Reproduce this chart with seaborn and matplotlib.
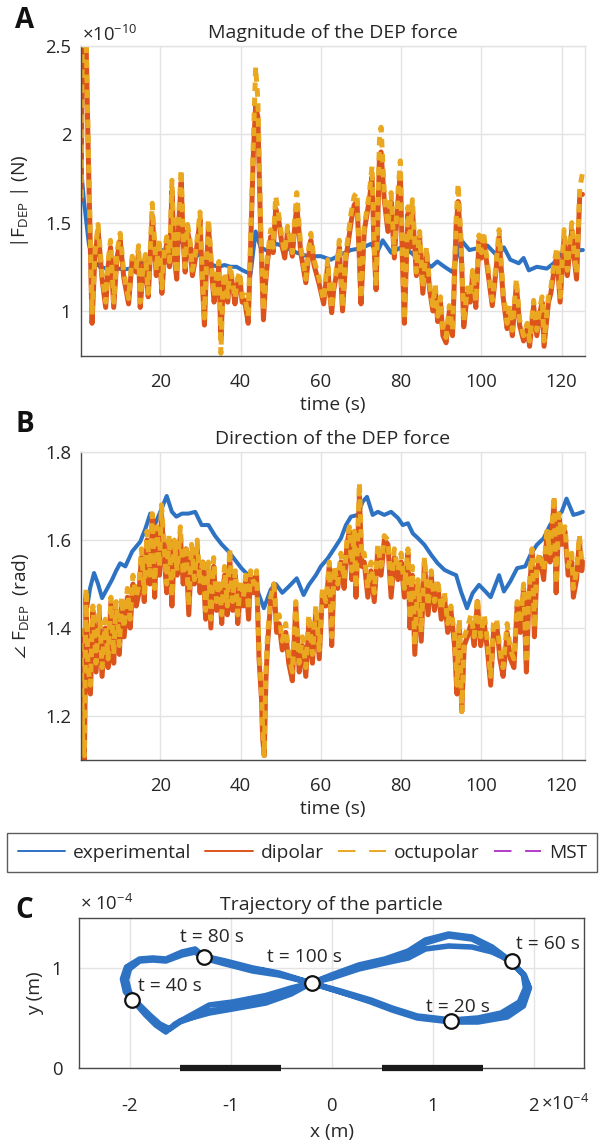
import matplotlib
matplotlib.use("Agg")
import matplotlib.pyplot as plt
import seaborn as sns
from matplotlib.lines import Line2D

# ---------------- data ----------------
# Panel A: magnitude of DEP force (units of 1e-10 N)
time_exp_a = [0.3, 1.0, 1.6, 2.2, 3.0, 4.0, 5.0, 6.5, 8.0, 9.5, 11.0, 12.6, 14.0, 15.5, 17.0, 18.5,
              20.0, 21.5, 23.0, 24.5, 26.0, 27.0, 28.5, 30.0, 31.5, 33.0, 34.5, 36.0, 37.5, 39.0,
              40.5, 42.5, 43.75, 45.0, 46.7, 49.0, 51.7, 54.0, 56.7, 60.0, 62.5, 65.0, 67.5, 70.0,
              72.5, 74.0, 75.4, 77.5, 80.0, 82.5, 84.0, 85.8, 87.5, 89.0, 90.8, 92.8, 95.0, 97.0,
              99.0, 101.5, 104.0, 105.6, 107.2, 109.3, 110.5, 111.8, 113.8, 116.3, 118.0, 120.0,
              122.0, 125.3]
experimental_a = [1.80, 1.62, 1.50, 1.38, 1.30, 1.27, 1.25, 1.24, 1.25, 1.24, 1.235, 1.24, 1.25, 1.28,
                  1.30, 1.33, 1.35, 1.33, 1.36, 1.40, 1.38, 1.37, 1.33, 1.31, 1.28, 1.26, 1.25, 1.26,
                  1.25, 1.25, 1.23, 1.21, 1.45, 1.36, 1.34, 1.38, 1.355, 1.33, 1.31, 1.31, 1.29, 1.32,
                  1.345, 1.355, 1.38, 1.33, 1.40, 1.33, 1.36, 1.33, 1.30, 1.28, 1.25, 1.28, 1.25, 1.22,
                  1.40, 1.345, 1.355, 1.37, 1.31, 1.36, 1.29, 1.27, 1.30, 1.23, 1.25, 1.24, 1.27, 1.33,
                  1.34, 1.345]

time_a = [0.3, 0.6, 1.0, 1.5, 2.0, 2.5, 3.0, 3.7, 4.5, 5.5, 6.4, 7.0, 7.6, 8.4, 9.2, 10.0, 10.9, 12.1,
          13.0, 14.0, 14.6, 15.0, 15.7, 16.3, 17.0, 18.0, 19.0, 19.7, 20.4, 21.0, 21.6, 22.3, 22.9,
          23.5, 24.1, 24.6, 25.2, 25.7, 26.2, 26.8, 27.4, 28.0, 28.7, 29.3, 29.9, 30.4, 31.0, 31.5,
          32.0, 32.8, 33.4, 34.0, 34.6, 35.1, 35.6, 36.1, 36.8, 37.4, 38.0, 38.6, 39.2, 39.8, 40.4,
          41.0, 41.9, 42.5, 43.2, 43.75, 44.3, 45.0, 45.7, 46.2, 46.7, 47.5, 48.1, 48.75, 49.6, 50.4,
          51.0, 51.7, 52.3, 52.9, 53.4, 54.0, 55.0, 55.6, 56.25, 56.9, 57.5, 58.3, 59.0, 59.6, 60.7,
          61.2, 61.7, 62.2, 62.7, 63.2, 63.75, 64.6, 65.4, 66.25, 66.9, 67.5, 68.3, 69.0, 69.5, 70.0,
          70.8, 71.5, 72.1, 72.75, 73.2, 73.75, 74.6, 75.0, 75.8, 76.7, 77.5, 78.3, 79.2, 79.8, 80.3,
          80.8, 81.7, 82.2, 82.8, 83.8, 84.6, 85.4, 86.3, 87.1, 87.9, 88.5, 89.1, 89.8, 90.4, 91.2,
          92.0, 92.8, 93.3, 93.7, 94.2, 94.9, 95.6, 96.5, 97.2, 97.8, 98.6, 99.4, 100.0, 100.5, 101.5,
          102.7, 103.5, 104.4, 105.4, 106.4, 107.0, 107.7, 108.7, 109.5, 110.5, 111.4, 112.0, 113.0,
          113.8, 114.5, 115.1, 115.6, 116.7, 117.3, 117.9, 118.8, 119.6, 120.6, 121.4, 122.5, 123.0,
          123.7, 124.5, 125.2]
dipolar_a = [1.63, 2.60, 2.60, 2.55, 1.95, 1.45, 0.93, 1.30, 1.46, 1.18, 1.02, 1.25, 1.36, 1.02, 1.30,
             1.40, 1.19, 1.04, 1.29, 1.22, 1.33, 1.02, 1.22, 1.29, 1.08, 1.54, 1.20, 1.38, 1.10, 1.30,
             1.38, 1.25, 1.68, 1.30, 1.18, 1.50, 1.73, 1.40, 1.22, 1.45, 1.38, 1.20, 1.29, 1.40, 1.52,
             1.20, 0.92, 1.25, 1.48, 1.22, 1.05, 1.16, 1.25, 0.85, 1.10, 1.19, 1.05, 1.22, 1.15, 1.04,
             1.15, 1.19, 1.05, 1.06, 0.93, 1.36, 1.90, 2.16, 2.10, 1.45, 0.95, 1.15, 1.28, 1.42, 1.33,
             1.58, 1.50, 1.36, 1.30, 1.45, 1.38, 1.31, 1.45, 1.60, 1.33, 1.25, 1.16, 1.30, 1.40, 1.26,
             1.20, 1.15, 1.04, 1.15, 1.26, 1.10, 0.99, 1.12, 1.19, 1.36, 1.00, 1.30, 1.40, 1.50, 1.60,
             1.62, 1.35, 1.04, 1.45, 1.55, 1.63, 1.76, 1.40, 1.12, 1.88, 1.90, 1.63, 1.45, 1.62, 1.30,
             1.62, 1.78, 1.30, 0.93, 1.55, 1.36, 1.58, 1.20, 1.42, 1.10, 1.33, 1.12, 1.00, 1.12, 0.94,
             1.05, 0.86, 0.82, 1.00, 0.86, 1.20, 1.48, 1.62, 1.38, 0.91, 1.10, 1.05, 1.20, 1.02, 1.40,
             1.30, 1.42, 1.24, 1.03, 1.20, 1.42, 1.08, 0.90, 1.00, 0.86, 1.15, 0.92, 0.83, 0.90, 0.80,
             1.03, 0.86, 0.98, 1.05, 0.80, 1.05, 1.10, 1.20, 1.32, 1.05, 1.42, 1.20, 1.46, 1.32, 1.18,
             1.66, 1.66]
octupolar_a = [1.64, 2.62, 2.62, 2.60, 2.00, 1.48, 0.98, 1.32, 1.49, 1.21, 1.05, 1.28, 1.40, 1.05, 1.33,
               1.44, 1.22, 1.07, 1.31, 1.25, 1.37, 1.05, 1.25, 1.32, 1.10, 1.61, 1.23, 1.41, 1.13, 1.33,
               1.42, 1.28, 1.74, 1.33, 1.21, 1.54, 1.80, 1.44, 1.25, 1.49, 1.40, 1.23, 1.32, 1.43, 1.56,
               1.23, 0.96, 1.28, 1.52, 1.25, 1.08, 1.19, 1.28, 0.76, 1.12, 1.22, 1.08, 1.26, 1.17, 1.07,
               1.18, 1.22, 1.08, 1.09, 0.97, 1.40, 1.97, 2.38, 2.20, 1.50, 1.00, 1.18, 1.31, 1.46, 1.36,
               1.65, 1.53, 1.40, 1.33, 1.48, 1.41, 1.33, 1.49, 1.67, 1.36, 1.28, 1.18, 1.34, 1.44, 1.29,
               1.23, 1.18, 1.06, 1.18, 1.29, 1.12, 1.01, 1.15, 1.21, 1.40, 1.02, 1.33, 1.44, 1.55, 1.65,
               1.67, 1.38, 1.07, 1.48, 1.58, 1.67, 1.82, 1.43, 1.14, 1.97, 2.04, 1.67, 1.48, 1.67, 1.33,
               1.67, 1.85, 1.33, 0.95, 1.59, 1.39, 1.63, 1.22, 1.45, 1.13, 1.36, 1.15, 1.03, 1.15, 0.97,
               1.08, 0.89, 0.85, 1.03, 0.89, 1.23, 1.52, 1.72, 1.41, 0.94, 1.13, 1.08, 1.23, 1.05, 1.43,
               1.33, 1.45, 1.27, 1.06, 1.23, 1.46, 1.11, 0.93, 1.03, 0.89, 1.18, 0.95, 0.86, 0.93, 0.83,
               1.06, 0.89, 1.01, 1.08, 0.83, 1.08, 1.13, 1.24, 1.36, 1.08, 1.46, 1.23, 1.50, 1.35, 1.21,
               1.70, 1.78]

# Panel B: direction of DEP force (rad)
time_exp_b = [1.5, 2.5, 3.5, 4.5, 5.5, 6.8, 8.0, 9.0, 10.0, 11.3, 13.0, 15.0, 16.3, 17.5, 18.6, 20.0,
              21.6, 22.9, 24.0, 25.4, 27.0, 28.7, 30.3, 32.0, 33.6, 35.3, 37.0, 38.6, 40.2, 41.9, 43.0,
              44.0, 45.8, 47.5, 48.75, 50.4, 52.0, 54.0, 55.7, 57.0, 58.75, 60.0, 61.7, 63.3, 65.0,
              66.25, 67.5, 69.2, 70.4, 71.5, 72.9, 74.2, 75.8, 77.5, 79.2, 80.4, 81.7, 82.9, 84.2,
              85.8, 87.5, 89.1, 90.8, 92.4, 93.7, 94.9, 96.4, 97.8, 99.4, 101.0, 102.3, 104.4, 105.6,
              107.2, 108.9, 110.9, 112.2, 113.8, 115.5, 117.1, 118.8, 120.0, 121.2, 122.9, 124.1, 125.3]
experimental_b = [1.43, 1.49, 1.525, 1.50, 1.468, 1.49, 1.51, 1.53, 1.547, 1.54, 1.574, 1.596, 1.626,
                  1.66, 1.634, 1.664, 1.70, 1.664, 1.653, 1.66, 1.66, 1.664, 1.634, 1.634, 1.61, 1.59,
                  1.574, 1.555, 1.536, 1.52, 1.515, 1.49, 1.445, 1.487, 1.50, 1.48, 1.494, 1.513, 1.475,
                  1.498, 1.52, 1.54, 1.558, 1.58, 1.604, 1.634, 1.653, 1.657, 1.687, 1.698, 1.657, 1.664,
                  1.657, 1.664, 1.65, 1.634, 1.638, 1.615, 1.604, 1.589, 1.566, 1.547, 1.532, 1.525,
                  1.52, 1.483, 1.445, 1.479, 1.498, 1.483, 1.47, 1.52, 1.483, 1.506, 1.536, 1.54, 1.566,
                  1.589, 1.604, 1.634, 1.657, 1.664, 1.694, 1.657, 1.66, 1.664]

time_b = [0.2, 0.7, 1.1, 1.5, 2.0, 2.6, 3.2, 4.0, 4.8, 5.5, 6.3, 7.0, 7.7, 8.4, 9.0, 9.8, 10.4, 11.0,
          11.8, 12.5, 13.2, 14.0, 14.7, 15.3, 16.0, 16.7, 17.4, 18.0, 18.6, 19.2, 19.8, 20.3, 21.0,
          21.6, 22.2, 22.9, 23.5, 24.2, 25.0, 25.7, 26.4, 27.1, 27.8, 28.5, 29.2, 29.9, 30.6, 31.3,
          32.0, 32.6, 33.3, 34.0, 34.7, 35.3, 36.0, 36.7, 37.3, 38.0, 38.7, 39.3, 40.0, 40.7, 41.3,
          42.0, 42.5, 43.3, 44.0, 44.6, 45.2, 45.5, 45.9, 46.3, 46.7, 47.5, 48.3, 49.0, 49.6, 50.4,
          51.25, 52.0, 52.9, 53.75, 54.6, 55.4, 56.25, 57.0, 57.9, 58.75, 59.6, 60.4, 61.25, 62.1,
          62.7, 63.3, 64.2, 65.0, 65.8, 66.5, 67.1, 67.7, 68.3, 68.75, 69.6, 70.2, 70.8, 71.7, 72.5,
          73.3, 74.2, 75.0, 75.8, 76.7, 77.5, 78.3, 79.2, 80.0, 80.8, 81.7, 82.2, 82.8, 83.4, 84.2,
          85.0, 85.8, 86.7, 87.5, 88.3, 89.1, 90.0, 90.8, 91.6, 92.4, 93.3, 93.9, 94.5, 95.1, 95.7,
          96.5, 97.4, 98.2, 99.0, 99.8, 100.7, 101.5, 102.3, 103.0, 103.8, 104.6, 105.4, 106.4,
          107.2, 108.1, 108.9, 109.7, 110.5, 111.2, 111.8, 112.6, 113.2, 113.8, 114.6, 115.5, 116.3,
          117.1, 118.1, 118.6, 119.3, 120.0, 120.8, 121.6, 122.5, 122.9, 123.7, 124.4, 125.0, 125.3]
dipolar_b = [1.38, 1.12, 1.10, 1.47, 1.29, 1.25, 1.44, 1.30, 1.43, 1.29, 1.40, 1.31, 1.46, 1.32, 1.44,
             1.34, 1.46, 1.38, 1.47, 1.40, 1.50, 1.45, 1.48, 1.56, 1.46, 1.60, 1.50, 1.65, 1.47, 1.62,
             1.52, 1.66, 1.56, 1.48, 1.60, 1.45, 1.58, 1.52, 1.61, 1.50, 1.58, 1.43, 1.57, 1.50, 1.58,
             1.48, 1.55, 1.42, 1.53, 1.40, 1.54, 1.44, 1.50, 1.41, 1.52, 1.43, 1.56, 1.44, 1.52, 1.41,
             1.49, 1.45, 1.51, 1.42, 1.52, 1.48, 1.52, 1.33, 1.24, 1.15, 1.11, 1.28, 1.36, 1.46, 1.50,
             1.39, 1.41, 1.35, 1.39, 1.32, 1.28, 1.45, 1.30, 1.36, 1.29, 1.41, 1.32, 1.44, 1.33, 1.48,
             1.45, 1.54, 1.36, 1.53, 1.49, 1.55, 1.49, 1.59, 1.62, 1.51, 1.60, 1.47, 1.70, 1.54, 1.55,
             1.47, 1.53, 1.46, 1.58, 1.52, 1.60, 1.59, 1.47, 1.56, 1.51, 1.55, 1.47, 1.57, 1.40, 1.52,
             1.34, 1.50, 1.37, 1.55, 1.43, 1.52, 1.44, 1.50, 1.42, 1.47, 1.39, 1.44, 1.36, 1.25, 1.41,
             1.21, 1.36, 1.38, 1.41, 1.36, 1.46, 1.36, 1.41, 1.35, 1.27, 1.39, 1.41, 1.33, 1.29, 1.39,
             1.33, 1.31, 1.45, 1.39, 1.49, 1.30, 1.46, 1.57, 1.38, 1.53, 1.56, 1.51, 1.61, 1.55, 1.69,
             1.48, 1.65, 1.59, 1.62, 1.52, 1.55, 1.47, 1.51, 1.60, 1.53, 1.55]
octupolar_b = [1.40, 1.14, 1.11, 1.49, 1.31, 1.27, 1.45, 1.32, 1.45, 1.31, 1.42, 1.33, 1.47, 1.34, 1.46,
               1.36, 1.47, 1.40, 1.49, 1.42, 1.52, 1.47, 1.50, 1.58, 1.48, 1.62, 1.52, 1.66, 1.49, 1.63,
               1.54, 1.68, 1.58, 1.50, 1.61, 1.47, 1.60, 1.53, 1.63, 1.52, 1.59, 1.45, 1.59, 1.51, 1.60,
               1.50, 1.56, 1.44, 1.55, 1.42, 1.56, 1.46, 1.51, 1.43, 1.54, 1.45, 1.58, 1.46, 1.53, 1.43,
               1.51, 1.47, 1.52, 1.44, 1.53, 1.50, 1.53, 1.35, 1.26, 1.17, 1.11, 1.30, 1.38, 1.47, 1.50,
               1.41, 1.43, 1.37, 1.41, 1.34, 1.30, 1.46, 1.32, 1.38, 1.31, 1.43, 1.34, 1.45, 1.35, 1.49,
               1.46, 1.55, 1.38, 1.54, 1.50, 1.57, 1.51, 1.60, 1.63, 1.53, 1.62, 1.49, 1.73, 1.56, 1.57,
               1.49, 1.55, 1.48, 1.59, 1.54, 1.61, 1.60, 1.49, 1.58, 1.53, 1.57, 1.49, 1.58, 1.42, 1.54,
               1.36, 1.51, 1.39, 1.56, 1.45, 1.53, 1.46, 1.51, 1.44, 1.48, 1.41, 1.45, 1.38, 1.27, 1.42,
               1.21, 1.38, 1.40, 1.43, 1.38, 1.47, 1.38, 1.43, 1.37, 1.29, 1.41, 1.42, 1.35, 1.31, 1.41,
               1.35, 1.33, 1.46, 1.41, 1.50, 1.32, 1.48, 1.58, 1.40, 1.55, 1.57, 1.53, 1.62, 1.57, 1.70,
               1.50, 1.66, 1.61, 1.63, 1.54, 1.57, 1.49, 1.53, 1.61, 1.55, 1.56]

# Panel C: trajectory (units of 1e-4 m)
traj_x = [-1.50, -1.21, -0.98, -0.65, -0.40, -0.20,
          0.00, 0.27, 0.53, 0.76, 0.93, 1.16, 1.39, 1.59, 1.76, 1.89, 1.95, 1.88, 1.72, 1.45, 1.19,
          0.85, 0.60, 0.39, 0.09, -0.20,
          -0.52, -0.78, -1.05, -1.27, -1.35, -1.48, -1.64, -1.77, -1.90, -2.03, -2.07, -2.04, -1.97,
          -1.84, -1.74, -1.64, -1.55,
          -1.21, -0.98, -0.65, -0.40, -0.20,
          0.00, 0.27, 0.53, 0.76, 0.93, 1.16, 1.39, 1.59, 1.78, 1.90, 1.92, 1.86, 1.68, 1.45, 1.19,
          0.85, 0.60, 0.39, 0.09, -0.20,
          -0.52, -0.78, -1.05, -1.27, -1.35, -1.48, -1.64, -1.77, -1.90, -2.00, -2.03, -2.00, -1.94,
          -1.80, -1.70, -1.60, -1.50,
          -1.21, -0.98, -0.65, -0.40, -0.20,
          0.00, 0.27, 0.53, 0.76, 0.93, 1.16, 1.39, 1.59, 1.77, 1.91, 1.96, 1.90, 1.74, 1.45, 1.19,
          0.85, 0.60, 0.39, 0.09, -0.20, -0.52, -0.70]
traj_y = [0.47, 0.55, 0.59, 0.65, 0.74, 0.85,
          0.93, 1.03, 1.09, 1.17, 1.28, 1.34, 1.31, 1.21, 1.08, 0.95, 0.82, 0.63, 0.52, 0.47, 0.47,
          0.51, 0.59, 0.67, 0.76, 0.85,
          0.95, 1.00, 1.07, 1.12, 1.19, 1.16, 1.09, 1.10, 1.09, 1.01, 0.89, 0.76, 0.68,
          0.53, 0.43, 0.36, 0.44,
          0.63, 0.66, 0.725, 0.80, 0.85,
          0.90, 0.99, 1.05, 1.10, 1.19, 1.22, 1.21, 1.16, 1.07, 0.93, 0.80, 0.66, 0.55, 0.50, 0.48,
          0.52, 0.60, 0.68, 0.77, 0.85,
          0.93, 0.97, 1.04, 1.10, 1.16, 1.13, 1.07, 1.08, 1.07, 0.99, 0.88, 0.76, 0.67,
          0.53, 0.44, 0.39, 0.46,
          0.57, 0.61, 0.67, 0.76, 0.85,
          0.92, 1.01, 1.07, 1.15, 1.25, 1.32, 1.29, 1.19, 1.06, 0.93, 0.80, 0.62, 0.51, 0.46, 0.46,
          0.50, 0.58, 0.66, 0.76, 0.85, 0.94, 0.98]

marker_x = [1.185, -1.974, 1.783, -1.265, -0.197]
marker_y = [0.468, 0.683, 1.066, 1.112, 0.851]
marker_labels = ["t = 20 s", "t = 40 s", "t = 60 s", "t = 80 s", "t = 100 s"]
label_x = [0.94, -1.92, 1.83, -1.50, -0.64]
label_y = [0.61, 0.82, 1.24, 1.31, 1.11]

electrode_x = [[-1.5, -0.5], [0.5, 1.5]]
electrode_y = [[0.0, 0.0], [0.0, 0.0]]

legend_labels = ["experimental", "dipolar", "octupolar", "MST"]

# ---------------- style ----------------
sns.set_style("white")
FONT = ["Open Sans", "DejaVu Sans"]
plt.rcParams["font.family"] = FONT
plt.rcParams["mathtext.fontset"] = "custom"
plt.rcParams["mathtext.rm"] = "Open Sans"
plt.rcParams["mathtext.it"] = "Open Sans:italic"
plt.rcParams["mathtext.bf"] = "Open Sans:bold"
plt.rcParams["mathtext.fallback"] = "stix"

C_BLUE = "#2E72C4"
C_RED = "#DD531C"
C_ORANGE = "#EAA820"
C_MAG = "#B43CC8"
C_TXT = "#262626"
C_SPINE = "#4A4A4A"
C_GRID = "#E3E3E3"

FS_TICK = 13.3
FS_LAB = 13.8
FS_TITLE = 14
FS_LEG = 13.8

W, H = 605, 1144
fig = plt.figure(figsize=(W / 100, H / 100), dpi=100)


def box(l, t, r, b):
    return [l / W, 1 - b / H, (r - l) / W, (b - t) / H]


def style_ax(ax, dark_box=False, xpad=12, ypad=8):
    ax.set_facecolor("white")
    ax.grid(True, color=C_GRID, lw=1.0)
    ax.set_axisbelow(True)
    for s in ["left", "bottom"]:
        ax.spines[s].set_color(C_SPINE)
        ax.spines[s].set_linewidth(1.0)
        ax.spines[s].set_visible(True)
    for s in ["top", "right"]:
        ax.spines[s].set_visible(True)
        ax.spines[s].set_color(C_SPINE if dark_box else C_GRID)
        ax.spines[s].set_linewidth(1.0)
    ax.tick_params(axis="both", direction="in", length=4.5, width=1.0, color=C_SPINE,
                   labelcolor=C_TXT, labelsize=FS_TICK)
    ax.tick_params(axis="x", pad=xpad)
    ax.tick_params(axis="y", pad=ypad)


dash_oct = (0, (1.7, 1.3))

# ---------- Panel A ----------
axA = fig.add_axes(box(81, 46, 585, 356))
sns.lineplot(x=time_exp_a, y=experimental_a, ax=axA, color=C_BLUE, lw=2.9,
             estimator=None, sort=False)
sns.lineplot(x=time_a, y=dipolar_a, ax=axA, color=C_RED, lw=3.6, estimator=None, sort=False)
sns.lineplot(x=time_a, y=octupolar_a, ax=axA, color=C_ORANGE, lw=3.6, estimator=None, sort=False,
             linestyle=dash_oct, dash_capstyle="butt")
axA.set_xlim(0.25, 125.8)
axA.set_ylim(0.745, 2.5)
axA.set_xticks([20, 40, 60, 80, 100, 120])
axA.set_yticks([1, 1.5, 2, 2.5])
axA.set_yticklabels(["1", "1.5", "2", "2.5"])
style_ax(axA, xpad=12, ypad=7)
axA.set_title("Magnitude of the DEP force", fontsize=FS_TITLE, color=C_TXT, pad=6)
axA.set_xlabel("time (s)", fontsize=FS_LAB, color=C_TXT, va="center")
axA.xaxis.set_label_coords(0.5, -0.158)
axA.set_ylabel(r"|F$_{\mathrm{DEP}}$ | (N)", fontsize=FS_LAB, color=C_TXT, va="center")
axA.yaxis.set_label_coords(-0.121, 0.5)
fig.text(82 / W, 1 - 35 / H, r"$\times$10$^{-10}$", fontsize=13.3, color=C_TXT, va="center", ha="left")
fig.text(15 / W, 1 - 21 / H, "A", fontsize=20, fontweight="bold", color="#111111", va="center")

# ---------- Panel B ----------
axB = fig.add_axes(box(81, 452, 585, 760))
sns.lineplot(x=time_exp_b, y=experimental_b, ax=axB, color=C_BLUE, lw=2.9,
             estimator=None, sort=False)
sns.lineplot(x=time_b, y=dipolar_b, ax=axB, color=C_RED, lw=3.6, estimator=None, sort=False)
sns.lineplot(x=time_b, y=octupolar_b, ax=axB, color=C_ORANGE, lw=3.6, estimator=None, sort=False,
             linestyle=dash_oct, dash_capstyle="butt")
axB.set_xlim(0.25, 125.8)
axB.set_ylim(1.1, 1.8)
axB.set_xticks([20, 40, 60, 80, 100, 120])
axB.set_yticks([1.2, 1.4, 1.6, 1.8])
axB.set_yticklabels(["1.2", "1.4", "1.6", "1.8"])
style_ax(axB, xpad=12, ypad=7)
axB.set_title("Direction of the DEP force", fontsize=FS_TITLE, color=C_TXT, pad=6)
axB.set_xlabel("time (s)", fontsize=FS_LAB, color=C_TXT, va="center")
axB.xaxis.set_label_coords(0.5, -0.158)
axB.set_ylabel(r"$\angle$ F$_{\mathrm{DEP}}$  (rad)", fontsize=FS_LAB, color=C_TXT, va="center")
axB.yaxis.set_label_coords(-0.121, 0.5)
fig.text(15 / W, 1 - 425 / H, "B", fontsize=20, fontweight="bold", color="#111111", va="center")

# ---------- Legend ----------
handles = [
    Line2D([], [], color=C_BLUE, lw=1.4),
    Line2D([], [], color=C_RED, lw=1.4),
    Line2D([], [], color=C_ORANGE, lw=1.4, linestyle=(0, (9, 7))),
    Line2D([], [], color=C_MAG, lw=1.4, linestyle=(0, (9, 7))),
]
leg = fig.legend(handles, legend_labels, loc="upper left", bbox_to_anchor=(7 / W, 1 - 833 / H),
                 ncol=4, frameon=True, fancybox=False, fontsize=FS_LEG, handlelength=2.5,
                 handletextpad=0.38, columnspacing=0.75, borderpad=0.55, borderaxespad=0)
leg.get_frame().set_edgecolor("#333333")
leg.get_frame().set_linewidth(1.0)
for t in leg.get_texts():
    t.set_color(C_TXT)

# ---------- Panel C ----------
axC = fig.add_axes(box(79, 918, 584, 1068))
sns.lineplot(x=traj_x, y=traj_y, ax=axC, color=C_BLUE, lw=4.0, estimator=None, sort=False)
for ex, ey in zip(electrode_x, electrode_y):
    sns.lineplot(x=ex, y=ey, ax=axC, color="#1A1A1A", lw=4.5, estimator=None, sort=False,
                 clip_on=False, solid_capstyle="butt", zorder=5)
sns.scatterplot(x=marker_x, y=marker_y, ax=axC, s=110, color="white", edgecolor="#111111",
                linewidth=1.6, zorder=6)
for lx, ly, lab in zip(label_x, label_y, marker_labels):
    axC.text(lx, ly, lab, fontsize=FS_LAB, color=C_TXT, ha="left", va="center")
axC.set_xlim(-2.5, 2.5)
axC.set_ylim(0, 1.5)
axC.set_xticks([-2, -1, 0, 1, 2])
axC.set_xticklabels(["-2", "-1", "0", "1", "2"])
axC.set_yticks([0, 1])
axC.set_yticklabels(["0", "1"])
style_ax(axC, dark_box=True, xpad=21, ypad=12)
axC.set_title("Trajectory of the particle", fontsize=FS_TITLE, color=C_TXT, pad=6)
axC.set_xlabel("x (m)", fontsize=FS_LAB, color=C_TXT, va="center")
axC.xaxis.set_label_coords(0.5, -0.427)
axC.set_ylabel("y (m)", fontsize=FS_LAB, color=C_TXT, va="center")
axC.yaxis.set_label_coords(-0.087, 0.5)
fig.text(541 / W, 1 - 1104 / H, r"$\times$10$^{-4}$", fontsize=13.3, color=C_TXT, va="center", ha="left")
fig.text(80 / W, 1 - 904 / H, r"$\times$ 10$^{-4}$", fontsize=13.3, color=C_TXT, va="center", ha="left")
fig.text(15 / W, 1 - 910 / H, "C", fontsize=20, fontweight="bold", color="#111111", va="center")

fig.savefig("out.png", dpi=100)
